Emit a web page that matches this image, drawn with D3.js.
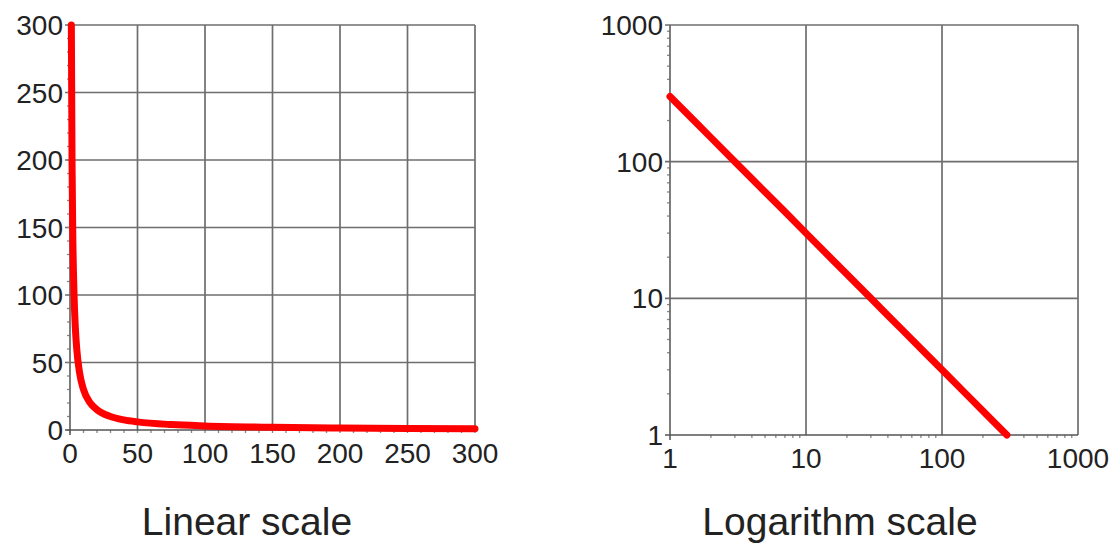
<!DOCTYPE html>
<html>
<head>
<meta charset="utf-8">
<script src="https://cdn.jsdelivr.net/npm/d3@7"></script>
<style>
  body { margin: 0; background: #fff; }
  text { font-family: "Liberation Sans", Arial, sans-serif; fill: #222; }
</style>
</head>
<body>
<div id="chart"></div>
<script>
// values (y = 300 / x)
var xs = [1, 1.5, 2, 3, 4, 5, 7, 10, 15, 20, 30, 40, 50, 75, 100, 150, 200, 250, 300];
var ys = [300, 200, 150, 100, 75, 60, 43, 30, 20, 15, 10, 7.5, 6, 4, 3, 2, 1.5, 1.2, 1];
var linTicks = [0, 50, 100, 150, 200, 250, 300];
var linMinor = d3.range(0, 301, 10);
var logTicks = [1, 10, 100, 1000];
var logMinor = [2,3,4,5,6,7,8,9, 20,30,40,50,60,70,80,90, 200,300,400,500,600,700,800,900];
var captions = ['Linear scale', 'Logarithm scale'];

var pts = xs.map(function(x, i){ return {x: x, y: ys[i]} });

var svg = d3.select('#chart')
  .append('svg')
  .attr('width', 1120)
  .attr('height', 548);

var panels = [
  {x: d3.scaleLinear().domain([0, 300]).range([70, 475]),
   y: d3.scaleLinear().domain([0, 300]).range([430, 25]),
   ticks: linTicks, minor: linMinor, curve: d3.curveMonotoneX, cx: 247, caption: captions[0]},
  {x: d3.scaleLog().domain([1, 1000]).range([670, 1078]),
   y: d3.scaleLog().domain([1, 1000]).range([435, 25]),
   ticks: logTicks, minor: logMinor, curve: d3.curveLinear, cx: 840, caption: captions[1]}
];

panels.forEach(function(p){
  var g = svg.append('g');
  var x0 = p.x.range()[0], x1 = p.x.range()[1];
  var y0 = p.y.range()[0], y1 = p.y.range()[1];

  // grid
  g.selectAll('line.vg').data(p.ticks.slice(1)).enter().append('line')
    .attr('x1', function(d){ return p.x(d) }).attr('x2', function(d){ return p.x(d) })
    .attr('y1', y0).attr('y2', y1)
    .attr('stroke', '#6e6e6e').attr('stroke-width', 1.7);
  g.selectAll('line.hg').data(p.ticks.slice(1)).enter().append('line')
    .attr('y1', function(d){ return p.y(d) }).attr('y2', function(d){ return p.y(d) })
    .attr('x1', x0 - 5).attr('x2', x1)
    .attr('stroke', '#6e6e6e').attr('stroke-width', 1.7);

  // minor ticks
  g.selectAll('line.mx').data(p.minor).enter().append('line')
    .attr('x1', function(d){ return p.x(d) }).attr('x2', function(d){ return p.x(d) })
    .attr('y1', y0).attr('y2', y0 + 3)
    .attr('stroke', '#888').attr('stroke-width', 1.3);
  g.selectAll('line.my').data(p.minor).enter().append('line')
    .attr('y1', function(d){ return p.y(d) }).attr('y2', function(d){ return p.y(d) })
    .attr('x1', x0 - 3).attr('x2', x0)
    .attr('stroke', '#888').attr('stroke-width', 1.3);

  // axes
  g.append('line').attr('x1', x0).attr('x2', x0).attr('y1', y0 + 5).attr('y2', y1)
    .attr('stroke', '#666').attr('stroke-width', 1.7);
  g.append('line').attr('x1', x0 - 5).attr('x2', x1).attr('y1', y0).attr('y2', y0)
    .attr('stroke', '#555').attr('stroke-width', 1.7);

  // tick labels
  g.selectAll('text.yl').data(p.ticks).enter().append('text')
    .attr('x', x0 - 7).attr('y', function(d){ return p.y(d) + 10 })
    .attr('text-anchor', 'end').style('font-size', '28px')
    .text(function(d){ return d });
  g.selectAll('text.xl').data(p.ticks).enter().append('text')
    .attr('x', function(d){ return p.x(d) }).attr('y', y0 + 33)
    .attr('text-anchor', 'middle').style('font-size', '28px')
    .text(function(d){ return d });

  // curve
  g.append('path').datum(pts)
    .attr('d', d3.line().curve(p.curve).x(function(d){ return p.x(d.x) }).y(function(d){ return p.y(d.y) }))
    .attr('fill', 'none').attr('stroke', '#ff0000').attr('stroke-width', 7)
    .attr('stroke-linecap', 'round');

  svg.append('text').attr('x', p.cx).attr('y', 535)
    .attr('text-anchor', 'middle').style('font-size', '39px')
    .text(p.caption);
});
</script>
</body>
</html>
